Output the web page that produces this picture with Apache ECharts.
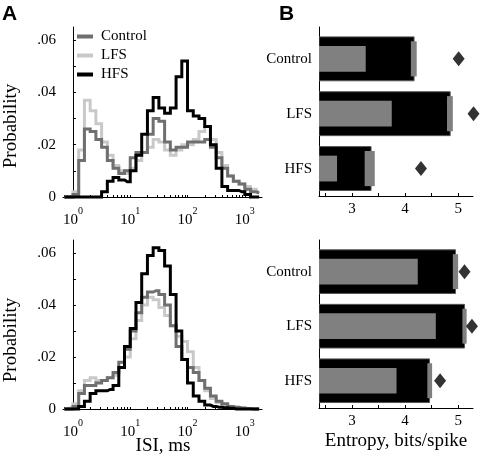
<!DOCTYPE html>
<html><head><meta charset="utf-8">
<script src="https://cdn.jsdelivr.net/npm/echarts@6/dist/echarts.min.js"></script>
<style>html,body{margin:0;padding:0;background:#fff}#c{width:482px;height:464px}</style>
</head><body><div id="c"></div>
<script>
// ISI histogram bins: bin centres in log10(ms)
const binLog10 = [-0.15,-0.05,0.05,0.15,0.25,0.35,0.45,0.55,0.65,0.75,0.85,0.95,1.05,1.15,1.25,1.35,1.45,1.55,1.65,1.75,1.85,1.95,2.05,2.15,2.25,2.35,2.45,2.55,2.65,2.75,2.85,2.95,3.05,3.15,3.25];
// Panel A top
const topControl = [0,0,0.001,0.014,0.026,0.025,0.022,0.019,0.014,0.011,0.009,0.010,0.015,0.017,0.017,0.024,0.030,0.029,0.021,0.018,0.019,0.019,0.021,0.021,0.021,0.022,0.019,0.015,0.011,0.008,0.006,0.005,0.003,0.002,0.0015];
const topLFS = [0,0,0.002,0.018,0.037,0.033,0.028,0.021,0.016,0.012,0.010,0.009,0.011,0.014,0.017,0.019,0.022,0.021,0.018,0.016,0.018,0.020,0.020,0.022,0.025,0.027,0.022,0.017,0.012,0.008,0.006,0.005,0.004,0.003,0.002];
const topHFS = [0,0,0,0,0,0,0,0.002,0.006,0.0075,0.0065,0.0058,0.010,0.016,0.024,0.033,0.038,0.034,0.032,0.034,0.046,0.052,0.033,0.031,0.030,0.027,0.020,0.011,0.004,0.0025,0.0025,0.002,0.001,0,0];
// Panel A bottom
const botControl = [0,0,0.001,0.006,0.009,0.009,0.010,0.011,0.012,0.014,0.018,0.023,0.030,0.037,0.043,0.045,0.0455,0.044,0.040,0.032,0.024,0.019,0.016,0.014,0.011,0.008,0.005,0.003,0.002,0.001,0.0007,0.0004,0.0002,0,0];
const botLFS = [0,0.0005,0.002,0.007,0.011,0.012,0.011,0.011,0.012,0.013,0.016,0.020,0.027,0.034,0.040,0.043,0.042,0.039,0.036,0.032,0.028,0.026,0.022,0.016,0.011,0.007,0.004,0.0025,0.0015,0.001,0.0007,0.0004,0.0002,0,0];
const botHFS = [0,0,0,0.001,0.003,0.006,0.007,0.007,0.0075,0.009,0.016,0.024,0.031,0.041,0.052,0.059,0.062,0.061,0.055,0.044,0.030,0.019,0.010,0.005,0.003,0.0015,0.001,0.0007,0.0005,0.0003,0,0,0,0,0];
const isiTickExp = [0,1,2,3];
const probTicks = [0,0.02,0.04,0.06];
const probTickLabels = ['0','.02','.04','.06'];

// Panel B
const groups = ['Control','LFS','HFS'];
const entTicks = [3,4,5];
const bTopTotal = [4.17,4.85,3.36];
const bTopInner = [3.26,3.75,2.72];
const bTopMarkLo = [4.11,4.79,3.24];
const bTopMarkHi = [4.22,4.90,3.43];
const bTopDiamond = [5.01,5.29,4.30];
const bBotTotal = [4.95,5.12,4.46];
const bBotInner = [4.24,4.58,3.84];
const bBotMarkLo = [4.90,5.08,4.42];
const bBotMarkHi = [5.00,5.16,4.51];
const bBotDiamond = [5.12,5.26,4.66];

const SERIF = '"Liberation Serif","Times New Roman",serif';
const colors = {Control:'#6f6f6f', LFS:'#c9c9c9', HFS:'#000000'};
const bXMin = 2.38, bXMax = 5.28;

const minorTicks = [];
for (let e = -1; e <= 3; e++) for (let k = 1; k <= 9; k++) {
  const v = e + Math.log10(k);
  if (v >= -0.174 && v <= 3.3) minorTicks.push(v);
}

function isiX(gi) {
  return {type:'value', gridIndex:gi, min:-0.174, max:3.3,
    axisLine:{show:true, onZero:false, lineStyle:{color:'#000', width:1}},
    axisTick:{show:true, inside:true, length:2, customValues:minorTicks, lineStyle:{color:'#000'}},
    axisLabel:{customValues:isiTickExp, margin:9, color:'#000',
      formatter: v => '{b|10}{s|' + Math.round(v) + '}',
      rich:{b:{fontFamily:SERIF, fontSize:15, color:'#000', padding:[7,0,0,0]},
            s:{fontFamily:SERIF, fontSize:10, color:'#000', verticalAlign:'top'}}},
    splitLine:{show:false}};
}
function isiY(gi) {
  return {type:'value', gridIndex:gi, min:0, max:0.065,
    axisLine:{show:true, lineStyle:{color:'#000', width:1}},
    axisTick:{show:true, inside:true, length:3, customValues:[0,0.01,0.02,0.03,0.04,0.05,0.06], lineStyle:{color:'#000'}},
    axisLabel:{customValues:probTicks, margin:7, color:'#000', fontFamily:SERIF, fontSize:15,
      formatter: v => probTickLabels[probTicks.findIndex(t => Math.abs(t - v) < 1e-9)]},
    splitLine:{show:false}};
}
function bX(gi) {
  return {type:'value', gridIndex:gi, min:bXMin, max:bXMax,
    axisLine:{show:true, onZero:false, lineStyle:{color:'#000', width:1}},
    axisTick:{show:true, inside:true, length:3, customValues:[2.5,3,3.5,4,4.5,5], lineStyle:{color:'#000'}},
    axisLabel:{customValues:entTicks, margin:6, color:'#000', fontFamily:SERIF, fontSize:15},
    splitLine:{show:false}};
}
function bY(gi) {
  return {type:'value', gridIndex:gi, min:0.42, max:3.5, inverse:true,
    axisLine:{show:true, onZero:false, lineStyle:{color:'#000', width:1}},
    axisTick:{show:false},
    axisLabel:{customValues:[1,2,3], margin:7, color:'#000', fontFamily:SERIF, fontSize:15,
      formatter: v => groups[Math.round(v) - 1]},
    splitLine:{show:false}};
}

function lineSeries(name, arr, gi) {
  return {type:'line', name, xAxisIndex:gi, yAxisIndex:gi, step:'middle', symbol:'none',
    clip:false, data: binLog10.map((x, i) => [x, arr[i]]),
    lineStyle:{color:colors[name], width:3, join:'miter'}, itemStyle:{color:colors[name]},
    emphasis:{disabled:true}, animation:false};
}

function rectSeries(vals, h, fill, stroke, gi) {
  return {type:'custom', xAxisIndex:gi, yAxisIndex:gi, clip:true, animation:false,
    data: vals.map((v, i) => [v, i + 1]),
    renderItem: (params, api) => {
      const p0 = api.coord([bXMin, api.value(1)]);
      const p1 = api.coord([api.value(0), api.value(1)]);
      const hh = api.size([0, h])[1];
      return {type:'rect', shape:{x:p0[0], y:p1[1] - hh / 2, width:p1[0] - p0[0], height:hh},
        style:{fill, stroke: stroke || null, lineWidth: stroke ? 1 : 0}};
    }};
}
function markSeries(lo, hi, h, gi) {
  return {type:'custom', xAxisIndex:gi, yAxisIndex:gi, animation:false,
    encode:{x:[0,1], y:2},
    data: lo.map((v, i) => [v, hi[i], i + 1]),
    renderItem: (params, api) => {
      const p0 = api.coord([api.value(0), api.value(2)]);
      const p1 = api.coord([api.value(1), api.value(2)]);
      const hh = api.size([0, h])[1];
      return {type:'rect', shape:{x:p0[0], y:p0[1] - hh / 2, width:p1[0] - p0[0], height:hh},
        style:{fill:'#7f7f7f'}};
    }};
}
function diamondSeries(vals, gi) {
  return {type:'scatter', xAxisIndex:gi, yAxisIndex:gi, symbol:'diamond', symbolSize:[12,15],
    clip:false, itemStyle:{color:'#000'}, animation:false, data: vals.map((v, i) => [v, i + 1])};
}

const chart = echarts.init(document.getElementById('c'), null, {renderer:'canvas'});
chart.setOption({
  backgroundColor:'#fff',
  animation:false,
  grid:[
    {left:63, top:27, width:199, height:170, outerBoundsMode:'none'},
    {left:63, top:240, width:199, height:169, outerBoundsMode:'none'},
    {left:319, top:27, width:154, height:169, outerBoundsMode:'none'},
    {left:319, top:240, width:154, height:168, outerBoundsMode:'none'}
  ],
  xAxis:[isiX(0), isiX(1), bX(2), bX(3)],
  yAxis:[isiY(0), isiY(1), bY(2), bY(3)],
  legend:{data:['Control','LFS','HFS'], left:72, top:24, orient:'vertical', icon:'rect',
    itemWidth:16, itemHeight:4, itemGap:4, selectedMode:false,
    textStyle:{fontFamily:SERIF, fontSize:15, color:'#000', padding:[0,0,0,3]}},
  series:[
    lineSeries('LFS', topLFS, 0), lineSeries('Control', topControl, 0), lineSeries('HFS', topHFS, 0),
    lineSeries('LFS', botLFS, 1), lineSeries('Control', botControl, 1), lineSeries('HFS', botHFS, 1),
    rectSeries(bTopTotal, 0.80, '#000', '#555', 2),
    rectSeries(bTopInner, 0.47, '#808080', null, 2),
    markSeries(bTopMarkLo, bTopMarkHi, 0.64, 2),
    diamondSeries(bTopDiamond, 2),
    rectSeries(bBotTotal, 0.80, '#000', '#555', 3),
    rectSeries(bBotInner, 0.47, '#808080', null, 3),
    markSeries(bBotMarkLo, bBotMarkHi, 0.64, 3),
    diamondSeries(bBotDiamond, 3)
  ],
  graphic:[
    {type:'text', left:2, top:4, style:{text:'A', font:'bold 21px "Liberation Sans", Arial, sans-serif', fill:'#000'}},
    {type:'text', left:279, top:4, style:{text:'B', font:'bold 21px "Liberation Sans", Arial, sans-serif', fill:'#000'}},
    {type:'text', x:11, y:126, rotation:Math.PI/2, style:{text:'Probability', font:'19px ' + SERIF, fill:'#000', align:'center', verticalAlign:'middle'}},
    {type:'text', x:11, y:340, rotation:Math.PI/2, style:{text:'Probability', font:'19px ' + SERIF, fill:'#000', align:'center', verticalAlign:'middle'}},
    {type:'text', x:163, y:446, style:{text:'ISI, ms', font:'19px ' + SERIF, fill:'#000', align:'center', verticalAlign:'middle'}},
    {type:'text', x:396, y:441, style:{text:'Entropy, bits/spike', font:'19px ' + SERIF, fill:'#000', align:'center', verticalAlign:'middle'}}
  ]
});
</script>
</body></html>
